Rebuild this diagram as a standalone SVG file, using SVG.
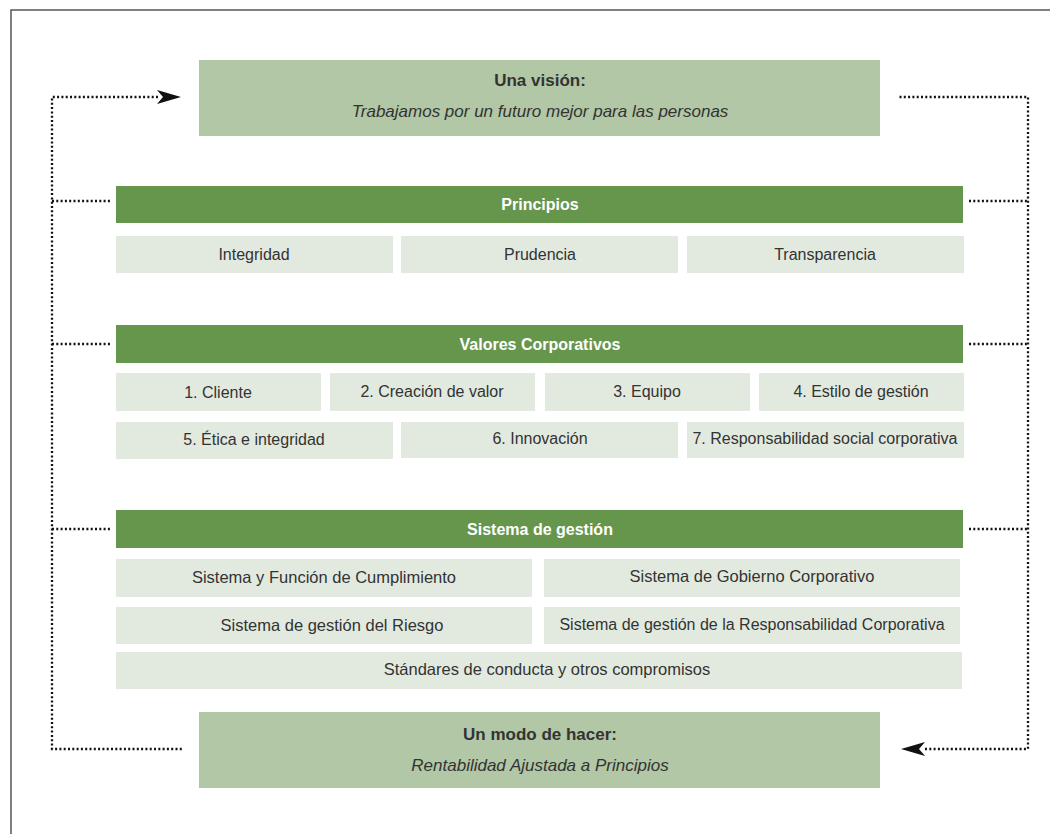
<svg xmlns="http://www.w3.org/2000/svg" width="1050" height="834" viewBox="0 0 1050 834">
<defs>
<style>
.frame{fill:none;stroke:#555;stroke-width:1.5}
.big{fill:#b1c7a5}
.hdr{fill:#66964c}
.cell{fill:#e2eadf}
.dot{fill:none;stroke:#111;stroke-width:2.3;stroke-dasharray:2 2.3}
text{font-family:"Liberation Sans",Arial,sans-serif;font-size:16px;fill:#333;text-anchor:middle}
.ht{fill:#fff;font-weight:bold}
.bt{font-weight:bold;font-size:17px}
.it{font-style:italic;font-size:17px}
</style>
</defs>
<rect width="1050" height="834" fill="#fff"/>
<path class="frame" d="M11,834 V10 H1050"/>

<g id="connectors">
<path class="dot" d="M158,97 H52 V749 H182"/>
<path d="M157,90 L181,97 L157,104 L163,97 z" fill="#111"/>
<path class="dot" d="M925,749 H1028 V97 H898"/>
<path d="M925,742 L901,749 L925,756 L919,749 z" fill="#111"/>
<path class="dot" d="M52,201 H111"/>
<path class="dot" d="M52,344 H111"/>
<path class="dot" d="M52,529 H111"/>
<path class="dot" d="M969,201 H1028"/>
<path class="dot" d="M969,344 H1028"/>
<path class="dot" d="M969,529 H1028"/>
</g>

<g id="vision">
<rect class="big" x="199" y="60" width="681" height="76"/>
<text class="bt" x="540" y="86">Una visión:</text>
<text class="it" x="540" y="117">Trabajamos por un futuro mejor para las personas</text>
</g>

<g id="principios">
<rect class="hdr" x="116" y="186" width="847" height="37"/>
<text class="ht" x="540" y="210">Principios</text>
</g>
<g id="integridad"><rect class="cell" x="116" y="236" width="277" height="37"/><text x="254" y="260">Integridad</text></g>
<g id="prudencia"><rect class="cell" x="401" y="236" width="277" height="37"/><text x="540" y="260">Prudencia</text></g>
<g id="transparencia"><rect class="cell" x="687" y="236" width="277" height="37"/><text x="825" y="260">Transparencia</text></g>

<g id="valores">
<rect class="hdr" x="116" y="325" width="847" height="38"/>
<text class="ht" x="540" y="350">Valores Corporativos</text>
</g>
<g id="v1"><rect class="cell" x="116" y="373" width="205" height="38"/><text x="218" y="398">1. Cliente</text></g>
<g id="v2"><rect class="cell" x="330" y="373" width="205" height="38"/><text x="432" y="397">2. Creación de valor</text></g>
<g id="v3"><rect class="cell" x="545" y="373" width="205" height="38"/><text x="647" y="397">3. Equipo</text></g>
<g id="v4"><rect class="cell" x="759" y="373" width="205" height="38"/><text x="861" y="397">4. Estilo de gestión</text></g>
<g id="v5"><rect class="cell" x="116" y="422" width="277" height="37"/><text x="254" y="445">5. Ética e integridad</text></g>
<g id="v6"><rect class="cell" x="401" y="422" width="277" height="36"/><text x="540" y="444">6. Innovación</text></g>
<g id="v7"><rect class="cell" x="687" y="422" width="277" height="36"/><text x="825" y="444">7. Responsabilidad social corporativa</text></g>

<g id="sistema">
<rect class="hdr" x="116" y="510" width="847" height="38"/>
<text class="ht" x="540" y="535">Sistema de gestión</text>
</g>
<g id="s1"><rect class="cell" x="116" y="559" width="416" height="38"/><text x="324" y="583" style="font-size:16.5px">Sistema y Función de Cumplimiento</text></g>
<g id="s2"><rect class="cell" x="544" y="559" width="416" height="38"/><text x="752" y="582" style="font-size:16.5px">Sistema de Gobierno Corporativo</text></g>
<g id="s3"><rect class="cell" x="116" y="607" width="416" height="37"/><text x="332" y="631" style="font-size:16.5px">Sistema de gestión del Riesgo</text></g>
<g id="s4"><rect class="cell" x="544" y="607" width="416" height="37"/><text x="752" y="630">Sistema de gestión de la Responsabilidad Corporativa</text></g>
<g id="s5"><rect class="cell" x="116" y="652" width="846" height="37"/><text x="547" y="675" style="font-size:16.5px">Stándares de conducta y otros compromisos</text></g>

<g id="modo">
<rect class="big" x="199" y="712" width="681" height="76"/>
<text class="bt" x="540" y="740">Un modo de hacer:</text>
<text class="it" x="540" y="771">Rentabilidad Ajustada a Principios</text>
</g>
</svg>
